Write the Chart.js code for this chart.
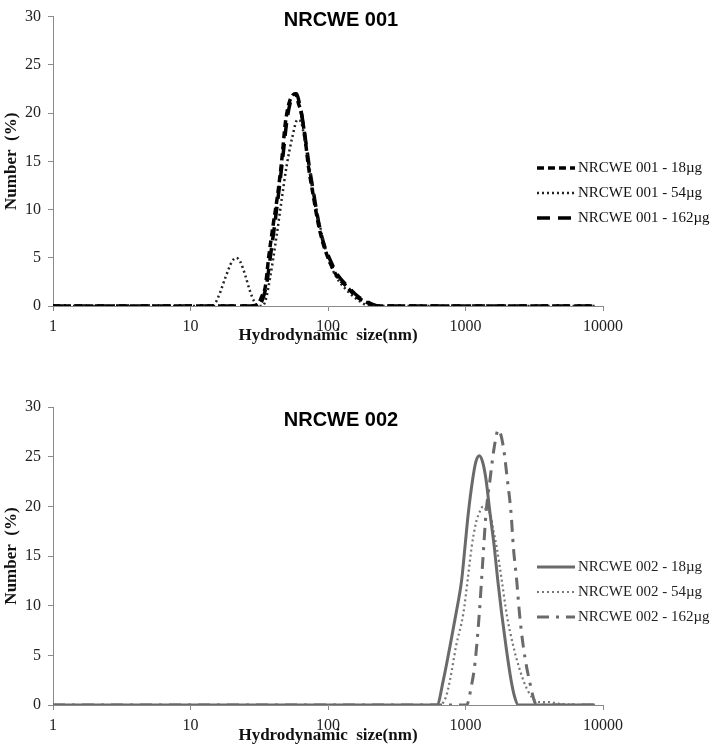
<!DOCTYPE html>
<html>
<head>
<meta charset="utf-8">
<script src="https://cdn.jsdelivr.net/npm/chart.js@4.4.1/dist/chart.umd.min.js"></script>
<style>
  html, body { margin: 0; padding: 0; background: #fff; }
  .box { position: absolute; left: 0; }
</style>
</head>
<body>
<div class="box" style="top:0"><canvas id="chart001" width="714" height="360"></canvas></div>
<div class="box" style="top:360px"><canvas id="chart002" width="714" height="385"></canvas></div>
<script>
// tick labels
const xTicks = [1, 10, 100, 1000, 10000];
const yTicks = [0, 5, 10, 15, 20, 25, 30];

// NRCWE 001 - sizes (nm) and number (%)
const a18Size = [1, 2, 5, 10, 20, 28, 31, 33, 35, 37, 40, 43, 46, 49, 52, 55, 58, 61, 64, 68, 72, 78, 85, 92, 100, 115, 137, 160, 190, 228, 500, 1000, 5000, 8700];
const a18Pct  = [0, 0, 0, 0, 0, 0, 0.2, 1, 2, 5, 8.5, 11.5, 15, 19, 21, 21.8, 22, 21, 20, 17.5, 14.5, 11.5, 8.5, 6.5, 5, 3.2, 2, 1, 0.4, 0, 0, 0, 0, 0];

const a54Size = [1, 5, 10, 13, 14.5, 16, 18, 20, 21.5, 23, 25, 27, 29, 31, 33, 35, 38, 42, 46, 50, 55, 60, 64, 68, 74, 80, 90, 100, 115, 140, 170, 200, 500, 1000, 5000, 8700];
const a54Pct  = [0, 0, 0, 0, 0, 1, 3, 4.6, 5, 4.6, 3.2, 1.6, 0.5, 0, 0, 0.5, 3, 7, 11, 14.5, 17.5, 19.3, 19, 17, 14, 11, 7.5, 5, 3, 1.5, 0.5, 0, 0, 0, 0, 0];

const a162Size = [1, 5, 10, 20, 29, 32, 34, 36, 38, 41, 44, 47, 50, 53, 56, 59, 62, 65, 69, 73, 79, 86, 93, 102, 118, 140, 165, 195, 235, 500, 1000, 5000, 8700];
const a162Pct  = [0, 0, 0, 0, 0, 0.2, 1, 2.5, 5, 8.5, 12, 15.5, 19, 21, 21.8, 22, 21, 19.5, 17, 14.5, 11.5, 8.5, 6.5, 5, 3.2, 2, 1, 0.4, 0, 0, 0, 0, 0];

// NRCWE 002
const b18Size = [1, 10, 100, 500, 620, 690, 771, 853, 938, 991, 1048, 1127, 1190, 1260, 1330, 1410, 1508, 1620, 1715, 1833, 1970, 2145, 2280, 2420, 5000, 8700];
const b18Pct  = [0, 0, 0, 0, 0, 2.5, 5.9, 9.2, 12.6, 15.9, 19.3, 22.7, 24.5, 25.1, 24.5, 22.7, 19.3, 15.9, 12.6, 9.2, 5.9, 2.5, 0.8, 0, 0, 0];

const b54Size = [1, 10, 100, 500, 650, 720, 771, 853, 964, 1037, 1109, 1190, 1274, 1346, 1420, 1508, 1600, 1686, 1833, 1990, 2229, 2632, 3030, 3400, 4000, 5000, 8700];
const b54Pct  = [0, 0, 0, 0, 0, 0.8, 2.5, 5.9, 9.2, 12.6, 15.9, 18.3, 19.5, 20, 19.6, 19.3, 17.5, 15.9, 12.6, 9.2, 5.9, 2.5, 0.8, 0.3, 0.3, 0.1, 0];

const b162Size = [1, 10, 100, 500, 900, 1019, 1100, 1172, 1260, 1333, 1410, 1508, 1620, 1734, 1884, 2015, 2145, 2229, 2355, 2470, 2632, 2911, 3300, 5000, 8700];
const b162Pct  = [0, 0, 0, 0, 0, 0, 1.8, 4.2, 9.2, 14.3, 19.3, 22.7, 26, 27.7, 26, 22.7, 19.3, 15.9, 12.6, 9.2, 5.9, 2.5, 0, 0, 0];

const pts = (xs, ys) => xs.map((x, i) => ({ x: x, y: ys[i] }));

const serif = 'Liberation Serif, Times New Roman, serif';

// heading + legend drawn on top of the plot area
const overlay = {
    id: 'overlay',
    afterDraw(chart, args, o) {
        const ctx = chart.ctx;
        ctx.save();
        ctx.fillStyle = '#000';
        ctx.font = 'bold 20px Liberation Sans, Arial, sans-serif';
        ctx.textAlign = 'center';
        ctx.textBaseline = 'middle';
        ctx.fillText(o.heading, 341, o.headingY);

        ctx.font = '15px ' + serif;
        ctx.textAlign = 'left';
        chart.data.datasets.forEach((ds, i) => {
            const y = o.legendY[i];
            ctx.beginPath();
            ctx.strokeStyle = ds.borderColor;
            ctx.lineWidth = ds.borderWidth;
            ctx.lineCap = ds.borderCapStyle || 'butt';
            ctx.setLineDash(ds.borderDash || []);
            ctx.moveTo(537, y);
            ctx.lineTo(575, y);
            ctx.stroke();
            ctx.fillStyle = o.textColor;
            ctx.fillText(ds.label, 578, y);
        });
        ctx.restore();
    }
};

function makeChart(id, datasets, cfg) {
    return new Chart(document.getElementById(id), {
        type: 'scatter',
        data: { datasets: datasets },
        options: {
            responsive: false,
            animation: false,
            layout: { padding: { left: 0, right: 111, top: cfg.top, bottom: 0 } },
            elements: { point: { radius: 0 }, line: { tension: 0.3, cubicInterpolationMode: 'monotone' } },
            plugins: {
                legend: { display: false },
                tooltip: { enabled: false },
                overlay: cfg.overlay
            },
            scales: {
                x: {
                    type: 'logarithmic',
                    min: 1,
                    max: 10000,
                    afterBuildTicks: s => { s.ticks = xTicks.map(v => ({ value: v })); },
                    afterFit: s => { s.height = cfg.xHeight; },
                    ticks: {
                        callback: v => String(v),
                        autoSkip: false,
                        maxRotation: 0,
                        padding: 6,
                        color: '#222',
                        font: { family: serif, size: 16 }
                    },
                    grid: { drawOnChartArea: false, tickLength: 5, color: '#8a8a8a' },
                    border: { color: '#8a8a8a' },
                    title: {
                        display: true,
                        text: 'Hydrodynamic  size(nm)',
                        color: '#111',
                        font: { family: serif, size: 17, weight: 'bold', lineHeight: 1 },
                        padding: { top: 0, bottom: cfg.titlePad }
                    }
                },
                y: {
                    min: 0,
                    max: 30,
                    afterBuildTicks: s => { s.ticks = yTicks.map(v => ({ value: v })); },
                    afterFit: s => { s.width = 53; },
                    ticks: {
                        padding: 7,
                        color: '#222',
                        font: { family: serif, size: 16 }
                    },
                    grid: { drawOnChartArea: false, tickLength: 5, color: '#8a8a8a' },
                    border: { color: '#8a8a8a' },
                    title: {
                        display: true,
                        text: 'Number  (%)',
                        color: '#111',
                        font: { family: serif, size: 17, weight: 'bold', lineHeight: 1 },
                        padding: { top: 3, bottom: 0 }
                    }
                }
            }
        },
        plugins: [overlay]
    });
}

makeChart('chart001', [
    { label: 'NRCWE 001 - 18\u00b5g', data: pts(a18Size, a18Pct), showLine: true, borderColor: '#000', borderWidth: 3.5, borderDash: [7, 4] },
    { label: 'NRCWE 001 - 54\u00b5g', data: pts(a54Size, a54Pct), showLine: true, borderColor: '#222', borderWidth: 2.5, borderDash: [2, 3] },
    { label: 'NRCWE 001 - 162\u00b5g', data: pts(a162Size, a162Pct), showLine: true, borderColor: '#000', borderWidth: 3.5, borderDash: [13, 8] }
], {
    top: 7, xHeight: 54, titlePad: 16,
    overlay: { heading: 'NRCWE 001', headingY: 20, legendY: [168, 193, 218], textColor: '#111' }
});

makeChart('chart002', [
    { label: 'NRCWE 002 - 18\u00b5g', data: pts(b18Size, b18Pct), showLine: true, borderColor: '#6a6a6a', borderWidth: 3 },
    { label: 'NRCWE 002 - 54\u00b5g', data: pts(b54Size, b54Pct), showLine: true, borderColor: '#777', borderWidth: 2.2, borderDash: [2, 3] },
    { label: 'NRCWE 002 - 162\u00b5g', data: pts(b162Size, b162Pct), showLine: true, borderColor: '#6a6a6a', borderWidth: 3, borderDash: [12, 7, 3, 7] }
], {
    top: 47, xHeight: 40, titlePad: 1,
    overlay: { heading: 'NRCWE 002', headingY: 60, legendY: [567, 592, 617].map(v => v - 360), textColor: '#222' }
});
</script>
</body>
</html>
